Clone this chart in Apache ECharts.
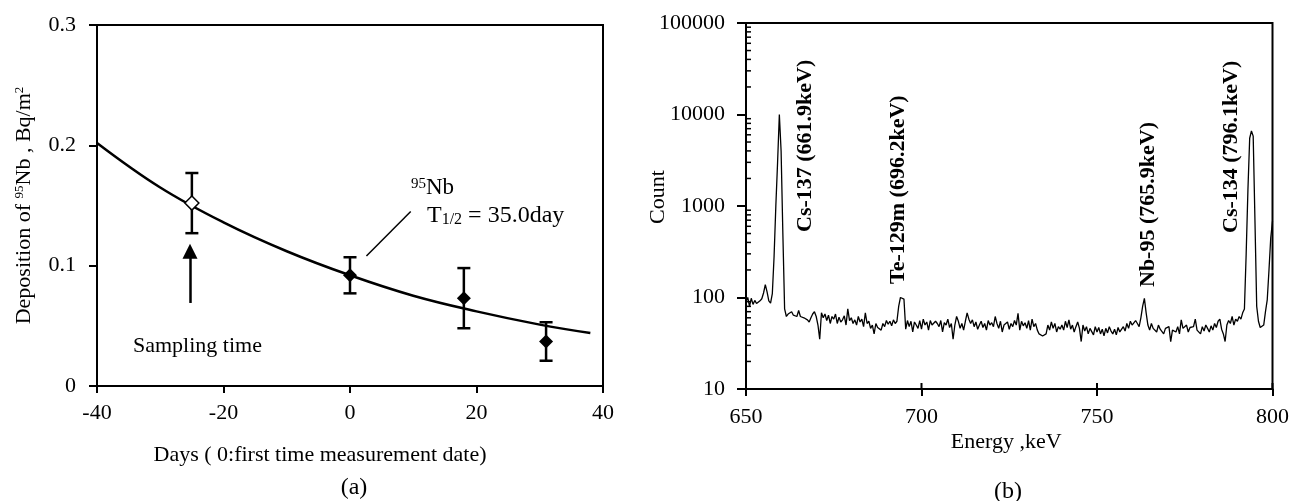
<!DOCTYPE html>
<html>
<head>
<meta charset="utf-8">
<script src="https://cdn.jsdelivr.net/npm/echarts@6/dist/echarts.min.js"></script>
<style>
  html, body { margin: 0; padding: 0; background: #fff; }
  #chart { width: 1292px; height: 501px; }
</style>
</head>
<body>
<div id="chart"></div>
<script>
// ---- (a) 95Nb deposition ----
// fitted decay curve (T1/2 = 35.0 day)
const fitDays = [-40, -30, -20, -10, 0, 10, 20, 30, 38];
const fitDeposition = [0.202, 0.165, 0.136, 0.112, 0.092, 0.075, 0.062, 0.051, 0.044];
// value at the sampling time (open marker)
const sampleDays = [-25];
const sampleDeposition = [0.152];
const sampleLow = [0.127];
const sampleHigh = [0.177];
// measured values (filled markers)
const measuredDays = [0, 18, 31];
const measuredDeposition = [0.092, 0.073, 0.037];
const measuredLow = [0.077, 0.048, 0.021];
const measuredHigh = [0.107, 0.098, 0.053];

// ---- (b) gamma spectrum ----
const channelStartKeV = 650;
const channelWidthKeV = 0.5;
const counts = [
  90, 100, 80, 98, 84, 93, 86, 88, 92, 97,
  112, 138, 115, 92, 87, 110, 280, 1000, 3000, 10000,
  4000, 500, 75, 62, 66, 63, 70, 64, 66, 62,
  72, 62, 64, 60, 63, 57, 54, 60, 66, 70,
  62, 50, 35, 68, 60, 66, 56, 64, 52, 62,
  58, 66, 52, 61, 54, 57, 63, 50, 75, 56,
  60, 52, 57, 50, 62, 54, 58, 48, 68, 52,
  55, 46, 50, 40, 52, 47, 49, 44, 52, 48,
  56, 51, 55, 49, 57, 52, 55, 80, 100, 103,
  96, 45, 56, 48, 55, 42, 54, 50, 46, 56,
  45, 58, 50, 54, 44, 56, 50, 48, 55, 52,
  48, 56, 42, 53, 50, 58, 47, 52, 35, 50,
  62, 55, 46, 52, 44, 55, 68, 58, 52, 57,
  48, 54, 45, 50, 55, 47, 52, 44, 56, 50,
  53, 48, 62, 52, 46, 55, 42, 50, 48, 54,
  45, 52, 48, 56, 50, 67, 44, 55, 49, 53,
  46, 56, 44, 58, 48, 52, 44, 40, 39, 38,
  38, 40, 50, 44, 54, 46, 52, 42, 48, 45,
  50, 44, 55, 47, 57, 45, 50, 42, 48, 54,
  46, 33, 50, 43, 48, 40, 46, 44, 39, 48,
  42, 47, 40, 45, 38, 46, 41, 48, 43, 40,
  45, 39, 47, 42, 44, 48, 43, 52, 46, 55,
  50, 48, 56, 52, 48, 60, 80, 98, 68, 50,
  44, 52, 46, 48, 42, 50, 45, 47, 40, 46,
  44, 48, 33, 44, 46, 42, 48, 40, 57, 46,
  44, 50, 42, 47, 45, 48, 58, 44, 46, 40,
  48, 43, 50, 46, 42, 49, 44, 52, 47, 55,
  58, 45, 40, 33, 50, 56, 52, 62, 50, 58,
  55, 62, 58, 68, 75, 300, 1500, 5500, 6600, 5800,
  700, 80, 55, 47, 45, 50, 70, 94, 200, 450,
  680
];
const peakNames = ['Cs-137 (661.9keV)', 'Te-129m (696.2keV)', 'Nb-95 (765.9keV)', 'Cs-134 (796.1keV)'];
const energyTicks = [650, 700, 750, 800];
const countDecades = [10, 100, 1000, 10000];
const minorTickFactors = [2, 3, 4, 5, 6, 7, 8, 9];

const FONT = '"Liberation Serif", "Times New Roman", serif';
const BLACK = '#000';

const spectrum = counts.map((c, i) => [channelStartKeV + i * channelWidthKeV, c]);
const fitLine = fitDays.map((d, i) => [d, fitDeposition[i]]);
const errorBars = sampleDays.map((d, i) => [d, sampleLow[i], sampleHigh[i]])
  .concat(measuredDays.map((d, i) => [d, measuredLow[i], measuredHigh[i]]));
const minorTicks = [];
countDecades.forEach(d => minorTickFactors.forEach(f => minorTicks.push([f * d])));

const axisText = { fontFamily: FONT, fontSize: 22, color: BLACK };
const nameText = { fontFamily: FONT, fontSize: 22, color: BLACK };
const axisLine = { onZero: false, lineStyle: { color: BLACK, width: 2 } };

const chart = echarts.init(document.getElementById('chart'), null, { renderer: 'canvas' });

chart.setOption({
  animation: false,
  backgroundColor: '#fff',
  grid: [
    { left: 97, top: 25, width: 506, height: 361, show: true, borderColor: BLACK, borderWidth: 2 },
    { left: 746, top: 23, width: 527, height: 366, show: true, borderColor: BLACK, borderWidth: 2 }
  ],
  xAxis: [
    {
      type: 'value', gridIndex: 0, min: -40, max: 40, interval: 20,
      axisLine: axisLine,
      axisTick: { length: 7, lineStyle: { color: BLACK, width: 2 } },
      axisLabel: Object.assign({ margin: 16 }, axisText),
      splitLine: { show: false },
      name: 'Days ( 0:first time measurement date)',
      nameLocation: 'middle', nameGap: 58, nameMoveOverlap: false,
      nameTextStyle: Object.assign({ padding: [0, 60, 0, 0] }, nameText)
    },
    {
      type: 'value', gridIndex: 1, min: 650, max: 800, interval: 50,
      axisLine: axisLine,
      axisTick: { length: 7, lineStyle: { color: BLACK, width: 2 } },
      axisLabel: Object.assign({ margin: 17 }, axisText),
      splitLine: { show: false },
      name: 'Energy ,keV',
      nameLocation: 'middle', nameGap: 42, nameMoveOverlap: false,
      nameTextStyle: Object.assign({ padding: [0, 6, 0, 0] }, nameText)
    }
  ],
  yAxis: [
    {
      type: 'value', gridIndex: 0, min: 0, max: 0.3, interval: 0.1,
      axisLine: axisLine,
      axisTick: { length: 8, lineStyle: { color: BLACK, width: 2 } },
      axisLabel: Object.assign({ margin: 21, formatter: v => (v === 0 ? '0' : v.toFixed(1)) }, axisText),
      splitLine: { show: false },
      name: 'Deposition of {sup|95}Nb , Bq/m{sup|2}',
      nameLocation: 'middle', nameGap: 62, nameMoveOverlap: false,
      nameTextStyle: Object.assign({
        rich: { sup: { fontFamily: FONT, fontSize: 13, color: BLACK, verticalAlign: 'top', lineHeight: 13 } }
      }, nameText)
    },
    {
      type: 'log', logBase: 10, gridIndex: 1, min: 10, max: 100000,
      axisLine: axisLine,
      axisTick: { length: 9, lineStyle: { color: BLACK, width: 2 } },
      axisLabel: Object.assign({ margin: 21, formatter: v => String(Math.round(v)) }, axisText),
      splitLine: { show: false },
      minorTick: { show: false },
      name: 'Count',
      nameLocation: 'middle', nameGap: 77, nameMoveOverlap: false,
      nameTextStyle: Object.assign({ padding: [0, 0, 0, 18] }, nameText)
    }
  ],
  series: [
    {
      name: 'decay fit', type: 'line', xAxisIndex: 0, yAxisIndex: 0,
      data: fitLine, smooth: 0.4, showSymbol: false, z: 2,
      lineStyle: { color: BLACK, width: 2.5 },
      markLine: {
        silent: true, animation: false,
        symbol: ['none', 'none'],
        label: { show: false },
        emphasis: { disabled: true },
        data: [
          [
            { coord: [9.6, 0.145], lineStyle: { color: BLACK, width: 1.5, type: 'solid' } },
            { coord: [2.6, 0.108] }
          ],
          [
            { coord: [-25.3, 0.069], symbol: 'none', lineStyle: { color: BLACK, width: 2.5, type: 'solid' } },
            { coord: [-25.3, 0.112], symbol: 'triangle', symbolSize: [15, 15] }
          ]
        ]
      }
    },
    {
      name: 'error bars', type: 'custom', xAxisIndex: 0, yAxisIndex: 0, z: 3,
      data: errorBars,
      renderItem: (params, api) => {
        const top = api.coord([api.value(0), api.value(2)]);
        const bot = api.coord([api.value(0), api.value(1)]);
        const half = 6.5;
        const st = { stroke: BLACK, lineWidth: 2.5 };
        return {
          type: 'group',
          children: [
            { type: 'line', shape: { x1: top[0], y1: top[1], x2: bot[0], y2: bot[1] }, style: st },
            { type: 'line', shape: { x1: top[0] - half, y1: top[1], x2: top[0] + half, y2: top[1] }, style: st },
            { type: 'line', shape: { x1: bot[0] - half, y1: bot[1], x2: bot[0] + half, y2: bot[1] }, style: st }
          ]
        };
      }
    },
    {
      name: 'sampling time', type: 'scatter', xAxisIndex: 0, yAxisIndex: 0, z: 4,
      data: sampleDays.map((d, i) => [d, sampleDeposition[i]]),
      symbol: 'diamond', symbolSize: 14,
      itemStyle: { color: '#fff', borderColor: BLACK, borderWidth: 1.5, opacity: 1 }
    },
    {
      name: 'measured', type: 'scatter', xAxisIndex: 0, yAxisIndex: 0, z: 4,
      data: measuredDays.map((d, i) => [d, measuredDeposition[i]]),
      symbol: 'diamond', symbolSize: 14,
      itemStyle: { color: BLACK, opacity: 1 }
    },
    {
      name: 'spectrum', type: 'line', xAxisIndex: 1, yAxisIndex: 1,
      data: spectrum, showSymbol: false, smooth: false, z: 2,
      lineStyle: { color: BLACK, width: 1.3 }
    },
    {
      name: 'count minor ticks', type: 'custom', xAxisIndex: 1, yAxisIndex: 1, z: 5,
      data: minorTicks, clip: false, silent: true,
      encode: { y: 0 },
      renderItem: (params, api) => {
        const p = api.coord([650, api.value(0)]);
        return { type: 'line', shape: { x1: p[0], y1: p[1], x2: p[0] + 5, y2: p[1] },
                 style: { stroke: BLACK, lineWidth: 1.5 } };
      }
    },
    {
      name: 'energy inner ticks', type: 'custom', xAxisIndex: 1, yAxisIndex: 1, z: 5,
      data: energyTicks.map(e => [e]), clip: false, silent: true,
      encode: { x: 0 },
      renderItem: (params, api) => {
        const p = api.coord([api.value(0), 10]);
        return { type: 'line', shape: { x1: p[0], y1: p[1], x2: p[0], y2: p[1] - 6 },
                 style: { stroke: BLACK, lineWidth: 2 } };
      }
    }
  ],
  graphic: [
    { type: 'text', x: 133, y: 346, silent: true,
      style: { text: 'Sampling time', font: '22px ' + FONT, fill: BLACK, align: 'left', verticalAlign: 'middle' } },
    { type: 'text', x: 411, y: 188, silent: true,
      style: { text: '{sup|95}Nb', font: '23px ' + FONT, fill: BLACK, align: 'left', verticalAlign: 'middle',
               rich: { sup: { font: '15px ' + FONT, fill: BLACK, verticalAlign: 'top', lineHeight: 15 } } } },
    { type: 'text', x: 427, y: 216, silent: true,
      style: { text: 'T{sub|1/2} = 35.0day', font: '24px ' + FONT, fill: BLACK, align: 'left', verticalAlign: 'middle',
               rich: { sub: { font: '16px ' + FONT, fill: BLACK, verticalAlign: 'bottom', lineHeight: 16 } } } },
    { type: 'text', x: 354, y: 488, silent: true,
      style: { text: '(a)', font: '24px ' + FONT, fill: BLACK, align: 'center', verticalAlign: 'middle' } },
    { type: 'text', x: 1008, y: 492, silent: true,
      style: { text: '(b)', font: '24px ' + FONT, fill: BLACK, align: 'center', verticalAlign: 'middle' } },
    { type: 'text', x: 805.5, y: 232, rotation: Math.PI / 2, silent: true,
      style: { text: peakNames[0], font: 'bold 22px ' + FONT, fill: BLACK, align: 'left', verticalAlign: 'middle' } },
    { type: 'text', x: 898.5, y: 284, rotation: Math.PI / 2, silent: true,
      style: { text: peakNames[1], font: 'bold 22px ' + FONT, fill: BLACK, align: 'left', verticalAlign: 'middle' } },
    { type: 'text', x: 1148.5, y: 287, rotation: Math.PI / 2, silent: true,
      style: { text: peakNames[2], font: 'bold 22px ' + FONT, fill: BLACK, align: 'left', verticalAlign: 'middle' } },
    { type: 'text', x: 1231.5, y: 233, rotation: Math.PI / 2, silent: true,
      style: { text: peakNames[3], font: 'bold 22px ' + FONT, fill: BLACK, align: 'left', verticalAlign: 'middle' } }
  ]
});
</script>
</body>
</html>
